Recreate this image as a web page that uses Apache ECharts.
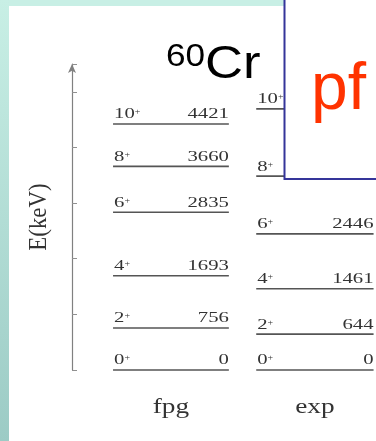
<!DOCTYPE html>
<html>
<head>
<meta charset="utf-8">
<script src="https://cdn.jsdelivr.net/npm/echarts@6/dist/echarts.min.js"></script>
<style>html,body{margin:0;padding:0;background:#fff;}#c{width:376px;height:441px;}</style>
</head>
<body>
<div id="c"></div>
<script>
// ---- data ----
const columns = ['fpg', 'exp'];
const spins = ['0', '2', '4', '6', '8', '10'];
const fpgEnergy = [0, 756, 1693, 2835, 3660, 4421];
const expEnergy = [0, 644, 1461, 2446, 3484, 4693];
const yTicks = [0, 1000, 2000, 3000, 4000, 5000];
const nucleusMass = '60';
const nucleusSymbol = 'Cr';
const boxText = 'pf';
const yAxisName = 'E(keV)';

// ---- layout (x in axis units 0..100) ----
const colRanges = [[13.5, 51.6], [60.6, 99.2]];
const serif = '"Liberation Serif", "DejaVu Serif", serif';
const sans = '"Liberation Sans", Arial, sans-serif';
const textColor = '#333333';
const SX = 1.38;

const measureCtx = document.createElement('canvas').getContext('2d');
measureCtx.font = '15px ' + serif;
function textW(t) { return measureCtx.measureText(t).width; }

const levelData = [];
[fpgEnergy, expEnergy].forEach((arr, c) => {
  arr.forEach((e, i) => levelData.push([c, e, i]));
});

const chart = echarts.init(document.getElementById('c'), null, {renderer: 'canvas'});
chart.setOption({
  backgroundColor: '#ffffff',
  animation: false,
  grid: {left: 72, right: 0, top: 64, bottom: 71},
  xAxis: {type: 'value', min: 0, max: 100, show: false},
  yAxis: {
    type: 'value', min: 0, max: 5500, interval: 1000,
    axisLine: {show: true, symbol: ['none', 'arrow'], symbolSize: [6, 9], lineStyle: {color: '#808080', width: 1.2}},
    axisTick: {show: true, inside: true, length: 5, lineStyle: {color: '#909090'}},
    axisLabel: {show: false},
    splitLine: {show: false}
  },
  graphic: [
    {type: 'rect', z: -10, shape: {x: 0, y: 0, width: 376, height: 6}, style: {fill: '#c8efe5'}},
    {type: 'rect', z: -10, shape: {x: 0, y: 0, width: 9, height: 441},
     style: {fill: new echarts.graphic.LinearGradient(0, 0, 0, 1, [{offset: 0, color: '#c8efe5'}, {offset: 1, color: '#9ccbc5'}])}},
    {type: 'rect', z: 100, shape: {x: 284.5, y: -5, width: 100, height: 184}, style: {fill: '#ffffff', stroke: '#35359a', lineWidth: 2}},
    {type: 'text', z: 101, x: 311, y: 58, style: {text: boxText, font: '66px ' + sans, fill: '#ff3300', verticalAlign: 'top', align: 'left'}},
    {type: 'text', z: 50, x: 166, y: 41, scaleX: 1.1, style: {text: nucleusMass, font: '32px ' + sans, fill: '#000', verticalAlign: 'top', align: 'left'}},
    {type: 'text', z: 50, x: 205, y: 42, scaleX: 1.12, style: {text: nucleusSymbol, font: '47px ' + sans, fill: '#000', verticalAlign: 'top', align: 'left'}},
    {type: 'text', z: 50, x: 39, y: 217, rotation: Math.PI / 2, scaleX: 0.88,
     style: {text: yAxisName, font: '26px ' + serif, fill: textColor, align: 'center', verticalAlign: 'middle'}}
  ],
  series: [
    {
      type: 'custom',
      coordinateSystem: 'cartesian2d',
      data: levelData,
      z: 5,
      renderItem: function (params, api) {
        const c = api.value(0), e = api.value(1), si = api.value(2);
        const r = colRanges[c];
        const p0 = api.coord([r[0], e]);
        const p1 = api.coord([r[1], e]);
        const sx = p0[0] + 1;
        const nw = textW(spins[si]) * SX;
        return {
          type: 'group',
          children: [
            {type: 'line', shape: {x1: p0[0], y1: p0[1], x2: p1[0], y2: p1[1]},
             style: {stroke: '#555555', lineWidth: 1.6}},
            {type: 'text', x: sx, y: p0[1] - 2, scaleX: SX,
             style: {text: spins[si], font: '15px ' + serif, fill: textColor, align: 'left', verticalAlign: 'bottom'}},
            {type: 'text', x: sx + nw, y: p0[1] - 12, scaleX: 1.1,
             style: {text: '+', font: '9px ' + serif, fill: textColor, align: 'left', verticalAlign: 'middle'}},
            {type: 'text', x: p1[0], y: p1[1] - 2, scaleX: SX,
             style: {text: String(e), font: '15px ' + serif, fill: textColor, align: 'right', verticalAlign: 'bottom'}}
          ]
        };
      }
    },
    {
      type: 'custom',
      coordinateSystem: 'cartesian2d',
      data: columns.map((c, i) => [i, 0]),
      z: 5,
      renderItem: function (params, api) {
        const c = api.value(0);
        const r = colRanges[c];
        const p = api.coord([(r[0] + r[1]) / 2, 0]);
        return {type: 'text', x: p[0], y: p[1] + 37, scaleX: 1.3,
                style: {text: columns[c], font: '21px ' + serif, fill: textColor, align: 'center', verticalAlign: 'middle'}};
      }
    }
  ]
});
</script>
</body>
</html>
